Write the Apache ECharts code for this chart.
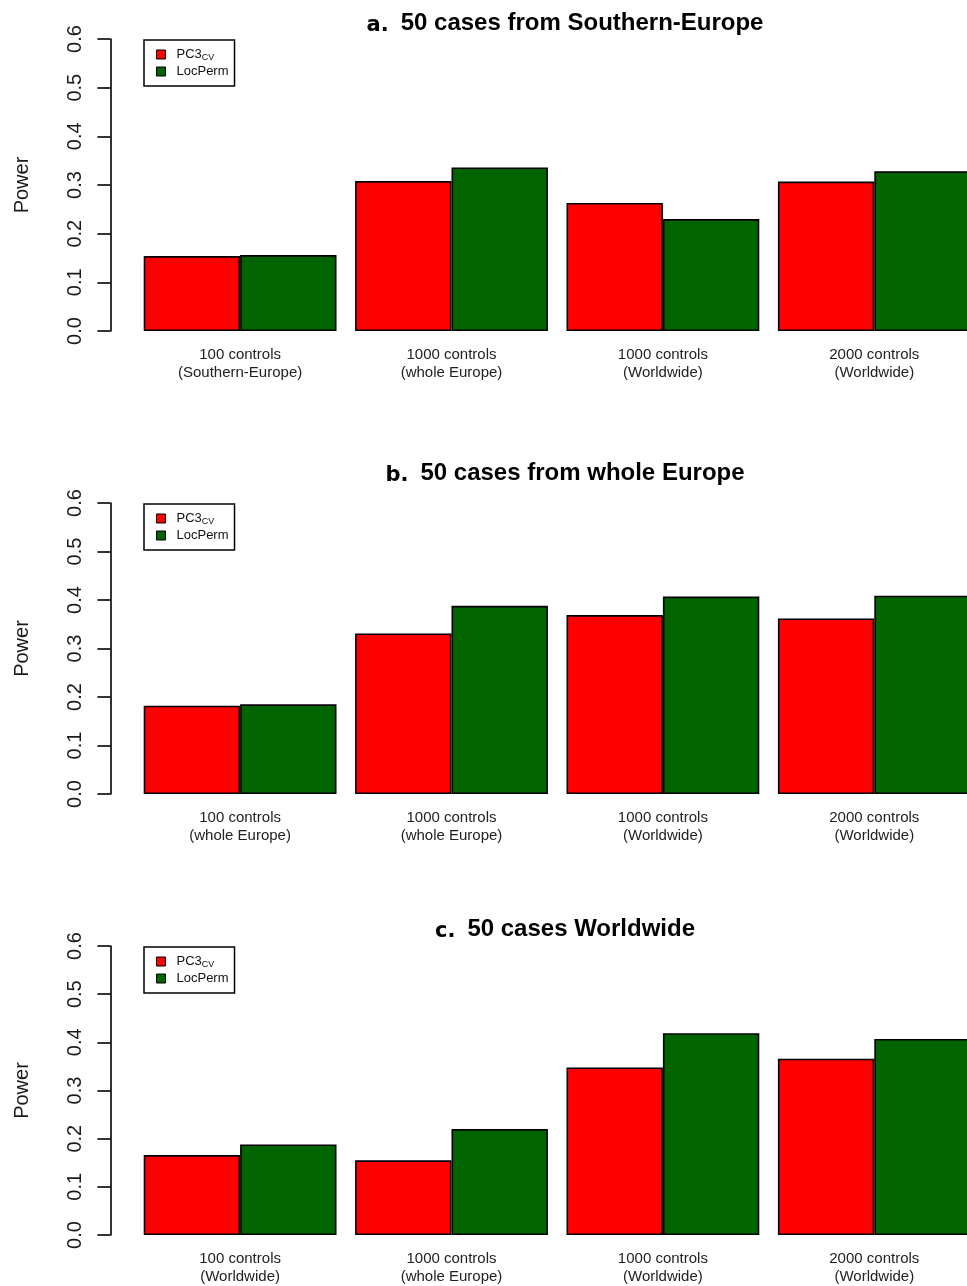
<!DOCTYPE html>
<html>
<head>
<meta charset="utf-8">
<title>Power comparison: PC3CV vs LocPerm</title>
<script src="https://cdn.jsdelivr.net/npm/echarts@6/dist/echarts.min.js"></script>
<style>
  html, body { margin: 0; padding: 0; background: #fff; overflow: hidden; }
  /* the plotting area runs slightly past the right page edge */
  #chart { width: 982px; height: 1286px; }
</style>
</head>
<body>
<div id="chart"></div>
<script>
// Panel titles
const panelTags = ['a.', 'b.', 'c.'];
const panelTitles = [
  '50 cases from Southern-Europe',
  '50 cases from whole Europe',
  '50 cases Worldwide'
];

// Control-set categories for each panel
const catsA = ['100 controls\n(Southern-Europe)', '1000 controls\n(whole Europe)', '1000 controls\n(Worldwide)', '2000 controls\n(Worldwide)'];
const catsB = ['100 controls\n(whole Europe)', '1000 controls\n(whole Europe)', '1000 controls\n(Worldwide)', '2000 controls\n(Worldwide)'];
const catsC = ['100 controls\n(Worldwide)', '1000 controls\n(whole Europe)', '1000 controls\n(Worldwide)', '2000 controls\n(Worldwide)'];

// Power per method
const pc3A = [0.154, 0.308, 0.263, 0.307];
const locA = [0.156, 0.336, 0.230, 0.328];
const pc3B = [0.182, 0.331, 0.369, 0.362];
const locB = [0.185, 0.388, 0.407, 0.409];
const pc3C = [0.166, 0.155, 0.348, 0.366];
const locC = [0.188, 0.220, 0.419, 0.407];

// Y ticks
const yMin = 0, yMax = 0.6, yStep = 0.1;

const methodNames = ['PC3CV', 'LocPerm'];
const methodColors = ['#ff0000', '#006400'];

const cats = [catsA, catsB, catsC];
const pc3 = [pc3A, pc3B, pc3C];
const loc = [locA, locB, locC];

const FONT = '"Liberation Sans", Arial, Helvetica, sans-serif';
const gridTops = [39, 503, 946];
const gridH = [292, 291, 291];
const titleTops = [5, 455, 911];
const legendTops = [40, 504, 947];

const option = {
  backgroundColor: '#ffffff',
  animation: false,
  title: [], grid: [], xAxis: [], yAxis: [], legend: [], series: []
};

for (let i = 0; i < 3; i++) {
  option.title.push({
    text: '{p|' + panelTags[i] + '}{t|' + panelTitles[i] + '}',
    left: 560, top: titleTops[i], textAlign: 'center',
    textStyle: {
      rich: {
        p: { fontFamily: '"DejaVu Sans", sans-serif', fontWeight: 'bold', fontSize: 21, color: '#000', padding: [5, 12, 0, 0] },
        t: { fontFamily: FONT, fontWeight: 'bold', fontSize: 24, color: '#000' }
      }
    }
  });
  option.grid.push({ left: 134.4, width: 845.6, top: gridTops[i], height: gridH[i], containLabel: false });
  option.xAxis.push({
    type: 'category', gridIndex: i, data: cats[i],
    axisLine: { show: false }, axisTick: { show: false },
    axisLabel: { margin: 15, fontFamily: FONT, fontSize: 15, lineHeight: 18, color: '#222', interval: 0 }
  });
  option.yAxis.push({
    type: 'value', gridIndex: i, min: yMin, max: yMax, interval: yStep, offset: 24,
    name: 'Power', nameLocation: 'middle', nameGap: 78, nameRotate: 90,
    nameTextStyle: { fontFamily: FONT, fontSize: 20, color: '#1a1a1a' },
    axisLine: { show: true, lineStyle: { color: '#000', width: 1.6 } },
    axisTick: { show: true, length: 13, lineStyle: { color: '#000', width: 1.6 } },
    splitLine: { show: false },
    axisLabel: {
      rotate: 90, margin: 25, fontFamily: FONT, fontSize: 20, color: '#1a1a1a',
      formatter: v => v.toFixed(1)
    }
  });
  option.legend.push({
    orient: 'vertical', left: 144, top: legendTops[i],
    data: methodNames,
    icon: 'rect', itemWidth: 9, itemHeight: 9, itemGap: 2,
    padding: [7, 6, 7, 12],
    borderColor: '#000', borderWidth: 1.5, borderRadius: 0, backgroundColor: '#fff',
    itemStyle: { borderColor: '#000', borderWidth: 1 },
    selectedMode: false,
    formatter: n => n === 'PC3CV' ? '{m|PC3}{s|CV}' : '{m|LocPerm}',
    textStyle: {
      fontFamily: FONT, fontSize: 13, color: '#111', lineHeight: 15,
      rich: {
        m: { fontFamily: FONT, fontSize: 13, color: '#111', padding: [0, 0, 0, 6] },
        s: { fontFamily: FONT, fontSize: 9, color: '#111', padding: [6, 0, 0, 0] }
      }
    }
  });
  const groups = [pc3[i], loc[i]];
  for (let k = 0; k < 2; k++) {
    option.series.push({
      name: methodNames[k], type: 'bar', xAxisIndex: i, yAxisIndex: i,
      data: groups[k], barWidth: 96.4, barGap: '0%',
      itemStyle: { color: methodColors[k], borderColor: '#000', borderWidth: 1.6 },
      emphasis: { disabled: true }
    });
  }
}

const chart = echarts.init(document.getElementById('chart'), null, { renderer: 'canvas' });
chart.setOption(option);
</script>
</body>
</html>
